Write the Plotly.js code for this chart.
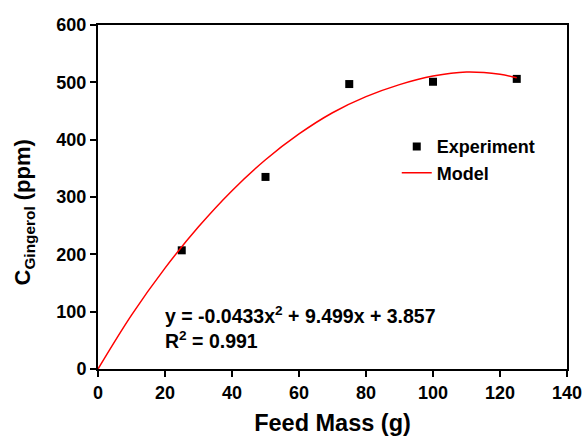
<!DOCTYPE html>
<html>
<head>
<meta charset="utf-8">
<script src="https://cdn.plot.ly/plotly-3.0.1.min.js"></script>
<style>html,body{margin:0;padding:0;background:#fff;}#chart{width:583px;height:440px;}</style>
</head>
<body>
<div id="chart"></div>
<script>
// Experimental data
const expMass = [25, 50, 75, 100, 125];
const expConc = [207, 335, 497, 501, 506];

// Model curve
const modelMass = [0, 10, 20, 30, 40, 50, 60, 70, 80, 90, 100, 110, 120, 125];
const modelConc = [0, 94, 176, 248, 311, 365, 410, 447, 475, 496, 511, 518, 514, 508];

const xTicks = [0, 20, 40, 60, 80, 100, 120, 140];
const yTicks = [0, 100, 200, 300, 400, 500, 600];

const FONT = 'Arial, "Liberation Sans", sans-serif';

const traces = [
  {
    x: expMass, y: expConc, type: 'scatter', mode: 'markers', name: 'Experiment',
    marker: {symbol: 'square', size: 8, color: '#000'}
  },
  {
    x: modelMass, y: modelConc, type: 'scatter', mode: 'lines', name: 'Model',
    line: {color: '#ff0000', width: 1.5, shape: 'spline', smoothing: 1}
  }
];

const layout = {
  width: 583, height: 440,
  margin: {l: 98, r: 16, t: 25, b: 71},
  paper_bgcolor: '#fff', plot_bgcolor: '#fff',
  font: {family: FONT, color: '#000'},
  showlegend: true,
  legend: {
    x: 0.637, y: 0.70, xanchor: 'left', yanchor: 'top',
    font: {family: FONT, size: 18, weight: 'bold', color: '#000'},
    bgcolor: 'rgba(0,0,0,0)', tracegroupgap: 0
  },
  xaxis: {
    range: [0, 140], tickvals: xTicks, ticktext: xTicks.map(String),
    showgrid: false, zeroline: false,
    showline: true, linecolor: '#000', linewidth: 2, mirror: true,
    ticks: 'outside', ticklen: 6, tickwidth: 2, tickcolor: '#000',
    tickfont: {family: FONT, size: 18, weight: 'bold', color: '#000'},
    title: {text: 'Feed Mass (g)', font: {family: FONT, size: 23.5, weight: 'bold', color: '#000'}, standoff: 13}
  },
  yaxis: {
    range: [0, 600], tickvals: yTicks, ticktext: yTicks.map(String),
    showgrid: false, zeroline: false,
    showline: true, linecolor: '#000', linewidth: 2, mirror: true,
    ticks: 'outside', ticklen: 6, tickwidth: 2, tickcolor: '#000',
    tickfont: {family: FONT, size: 18, weight: 'bold', color: '#000'}
  },
  annotations: [
    {
      x: -0.157, y: 0.456, xref: 'paper', yref: 'paper', xanchor: 'center', yanchor: 'middle',
      textangle: -90, showarrow: false,
      text: 'C<sub>Gingerol</sub> (ppm)',
      font: {family: FONT, size: 22, weight: 'bold', color: '#000'}
    },
    {
      x: 19.4, y: 95, xref: 'x', yref: 'y', xanchor: 'left', yanchor: 'middle',
      text: 'y = -0.0433x<sup>2</sup> + 9.499x + 3.857', showarrow: false,
      font: {family: FONT, size: 19.5, weight: 'bold', color: '#000'}
    },
    {
      x: 19.4, y: 50, xref: 'x', yref: 'y', xanchor: 'left', yanchor: 'middle',
      text: 'R<sup>2</sup> = 0.991', showarrow: false,
      font: {family: FONT, size: 19.5, weight: 'bold', color: '#000'}
    }
  ]
};

Plotly.newPlot('chart', traces, layout, {displayModeBar: false, staticPlot: true});
</script>
</body>
</html>
